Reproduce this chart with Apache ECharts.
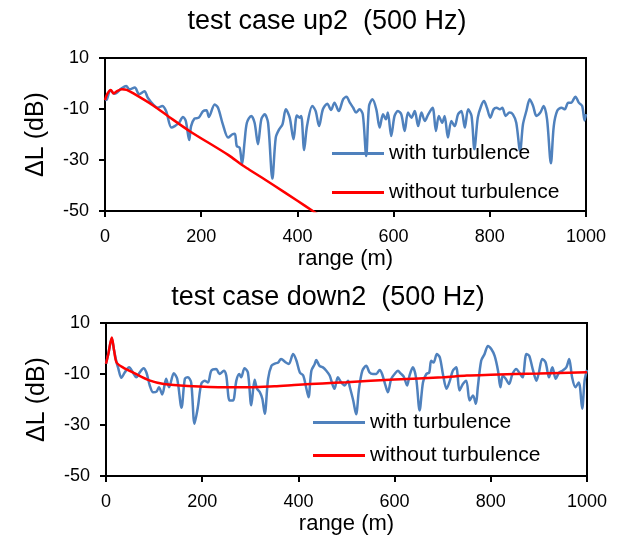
<!DOCTYPE html>
<html>
<head>
<meta charset="utf-8">
<script src="https://cdn.jsdelivr.net/npm/echarts@6/dist/echarts.min.js"></script>
<style>
  html, body { margin: 0; padding: 0; background: #fff; }
  #main { width: 618px; height: 536px; }
</style>
</head>
<body>
<div id="main"></div>
<script>
// [range (m), dL (dB)]
var upWith = [[0,-6.5],[4,-6.2],[11,-2.7],[20,-4],[34,-2],[44,-1],[51,-2.3],[62,-1.6],[71,-4.2],[82,-3],[89,-5.6],[100,-8.2],[110,-9.5],[119,-8.8],[127,-10.8],[138,-17.3],[145,-16.7],[154,-15.4],[162,-13.1],[168,-14.7],[175,-22.2],[179,-16.7],[186,-13.8],[195,-13.4],[204,-10.8],[211,-10.5],[216,-13.1],[228,-8.2],[235,-9.5],[245,-16],[256,-21.2],[265,-19.9],[270,-19.7],[274,-24.5],[280,-25.2],[285,-31.7],[290,-23.2],[295,-15.4],[304,-12.7],[311,-15.4],[318,-23.8],[325,-14],[332,-12.1],[339,-15.4],[348,-37.3],[355,-21.2],[362,-18],[369,-16],[376,-10.1],[384,-13.4],[392,-21.9],[399,-12.5],[405,-13.4],[408,-12.7],[414,-26.1],[420,-16.7],[431,-8.8],[438,-10.8],[445,-16.7],[453,-10.1],[462,-7.9],[470,-10.4],[477,-7.5],[486,-10.8],[495,-6.2],[502,-5.2],[509,-7.5],[516,-9.5],[522,-11.4],[529,-10.1],[536,-12.1],[543,-28.4],[549,-8.8],[556,-6.2],[564,-10.1],[571,-17.3],[578,-12.1],[584,-14],[588,-11.4],[595,-20.6],[602,-12.7],[609,-10.8],[616,-12.1],[623,-18.6],[630,-11.4],[637,-13.4],[644,-10.8],[651,-16.7],[658,-11.4],[665,-14.7],[672,-12.1],[681,-9.5],[688,-18.6],[694,-12.7],[701,-15.4],[706,-12.7],[713,-21.2],[720,-14.7],[727,-16.7],[734,-12.1],[741,-10.8],[748,-17.3],[755,-10.1],[762,-12.7],[768,-25.8],[775,-13.4],[782,-8.8],[788,-6.9],[794,-9.5],[801,-13.4],[808,-10.1],[814,-9.5],[821,-10.1],[826,-9.5],[833,-12.7],[841,-11.4],[848,-12.1],[855,-15.4],[863,-26.5],[869,-16],[876,-10.8],[883,-6.2],[890,-8.8],[897,-12.7],[905,-11.4],[912,-8.8],[919,-14],[927,-31.3],[933,-16.7],[940,-10.8],[949,-9.5],[956,-10.1],[963,-7.5],[969,-7.5],[978,-5.2],[985,-7.5],[992,-8.8],[997,-14.5],[1000,-12]];

var upWithout = [[0,-6.5],[5,-4],[12,-2.5],[18,-3.9],[25,-3],[35,-2.3],[45,-2.5],[60,-4],[100,-8.6],[134,-13.2],[177,-18.8],[256,-28],[285,-32],[300,-33.8],[350,-39.8],[400,-46],[432,-50],[460,-53.5]];

var downWith = [[0,-6],[5,-2],[12,4],[17,-1],[22,-5.5],[25,-7.4],[32,-11.5],[39,-9.4],[48,-7.4],[56,-9.4],[63,-11.3],[70,-9.4],[78,-7.7],[84,-9.4],[91,-14.5],[98,-17.2],[105,-16.9],[110,-15.2],[117,-18],[125,-11.9],[131,-15.2],[141,-9.7],[148,-11.9],[157,-23.2],[164,-11.9],[170,-11.3],[177,-13.3],[184,-29.5],[191,-23],[198,-13.9],[205,-12.6],[212,-13.3],[219,-8.7],[229,-8],[236,-10],[245,-8.7],[250,-10.6],[257,-20.4],[264,-20.4],[271,-12.6],[277,-10],[281,-11.3],[288,-7.7],[295,-9.4],[302,-22.3],[309,-12.3],[314,-15.8],[320,-17.2],[325,-19.7],[330,-25.6],[337,-11.9],[344,-6.8],[351,-5.9],[358,-5.5],[364,-4.1],[374,-5.5],[380,-6.1],[389,-2.2],[396,-4.8],[403,-9.4],[410,-10.6],[416,-15.2],[421,-19.1],[427,-8.7],[434,-6.1],[437,-4.5],[444,-6.8],[451,-7.4],[458,-8.7],[465,-10.6],[475,-15.8],[482,-11.3],[489,-13.3],[496,-14.5],[503,-12.6],[507,-15.2],[514,-20.4],[520,-25.8],[526,-15.8],[533,-8.7],[541,-6.8],[548,-9.4],[555,-10],[562,-10],[569,-8.4],[574,-10],[581,-14.5],[586,-17.2],[593,-11.9],[600,-10],[607,-8.7],[612,-9.7],[619,-11],[626,-14.5],[631,-10.6],[638,-7.4],[645,-11.9],[652,-24.3],[659,-13.3],[666,-10],[672,-9.4],[676,-4.8],[681,-5.5],[688,-2.2],[694,-3.5],[701,-10.6],[708,-15.8],[715,-12.6],[721,-8.7],[728,-7.4],[735,-16.5],[742,-13.9],[749,-12.6],[756,-20.4],[763,-18.4],[769,-21.7],[773,-15.2],[780,-4.8],[787,-2.2],[794,1],[801,-0.2],[808,-2.9],[815,-8.7],[820,-15.2],[825,-10.6],[831,-11.9],[838,-13.9],[845,-10],[853,-8],[859,-9.4],[866,-11.3],[874,-2.2],[880,-2.9],[887,-8],[895,-12.6],[900,-9.4],[907,-4.1],[914,-5.5],[921,-11.3],[928,-7.4],[935,-11.9],[942,-9.4],[949,-8.7],[957,-7.4],[963,-4.1],[969,-11.3],[976,-15.2],[983,-13.3],[990,-23.6],[995,-12.6],[1000,-8.4]];

var downWithout = [[0,-6],[5,-2],[12,4.3],[17,-1],[22,-5.5],[35,-7.4],[60,-9.8],[90,-12.5],[120,-13.9],[170,-14.7],[250,-15.2],[300,-15.2],[350,-14.8],[400,-14.2],[450,-13.7],[500,-13.2],[600,-12.2],[700,-11.3],[750,-10.6],[800,-10.3],[900,-9.8],[1000,-9.3]];

var titles = ['test case up2  (500 Hz)', 'test case down2  (500 Hz)'];
var legendNames = ['with turbulence', 'without turbulence'];

var font = 'Arial, "Liberation Sans", sans-serif';
var chart = echarts.init(document.getElementById('main'));

function xAx(gi) {
    return {
        gridIndex: gi, type: 'value', min: 0, max: 1000, interval: 200,
        name: 'range (m)', nameLocation: 'middle', nameGap: 37,
        nameTextStyle: {color: '#000', fontSize: 22, fontFamily: font},
        axisLine: {onZero: false, lineStyle: {color: '#000', width: 2}},
        axisTick: {show: true, length: 6, lineStyle: {color: '#000', width: 2}},
        axisLabel: {color: '#000', fontSize: 18, fontFamily: font, margin: 17,
                    formatter: function (v) { return String(v); }},
        splitLine: {show: false}
    };
}
function yAx(gi) {
    return {
        gridIndex: gi, type: 'value', min: -50, max: 10, interval: 20,
        name: 'ΔL (dB)', nameLocation: 'middle', nameGap: 56,
        nameTextStyle: {color: '#000', fontSize: 25, fontFamily: font},
        axisLine: {show: true, onZero: false, lineStyle: {color: '#000', width: 2}},
        axisTick: {show: true, length: 6, lineStyle: {color: '#000', width: 2}},
        axisLabel: {color: '#000', fontSize: 18, fontFamily: font, margin: 16},
        splitLine: {show: false}
    };
}

var option = {
    backgroundColor: '#fff',
    animation: false,
    title: [
        {text: titles[0], left: 322, top: 3, textAlign: 'center',
         textStyle: {color: '#000', fontSize: 27, fontWeight: 'normal', fontFamily: font}},
        {text: titles[1], left: 323, top: 279, textAlign: 'center',
         textStyle: {color: '#000', fontSize: 27, fontWeight: 'normal', fontFamily: font}}
    ],
    grid: [
        {left: 105, top: 58, width: 481, height: 153, show: true, borderColor: '#000', borderWidth: 2},
        {left: 106, top: 323, width: 481, height: 154, show: true, borderColor: '#000', borderWidth: 2}
    ],
    legend: [
        {data: legendNames, orient: 'vertical', left: 332, top: 143, padding: 0, icon: 'rect',
         itemWidth: 52, itemHeight: 3, itemGap: 18,
         textStyle: {color: '#000', fontSize: 21, lineHeight: 20, fontFamily: font}},
        {data: legendNames, orient: 'vertical', left: 313, top: 412, padding: 0, icon: 'rect',
         itemWidth: 52, itemHeight: 3, itemGap: 12,
         textStyle: {color: '#000', fontSize: 21, lineHeight: 20, fontFamily: font}}
    ],
    xAxis: [xAx(0), xAx(1)],
    yAxis: [yAx(0), yAx(1)],
    series: [
        {name: legendNames[0], type: 'line', xAxisIndex: 0, yAxisIndex: 0, data: upWith, symbol: 'none', smooth: 0.3,
         lineStyle: {color: '#4f81bd', width: 2.5}, itemStyle: {color: '#4f81bd'}},
        {name: legendNames[1], type: 'line', xAxisIndex: 0, yAxisIndex: 0, data: upWithout, symbol: 'none', smooth: 0.3,
         lineStyle: {color: '#ff0000', width: 2.5}, itemStyle: {color: '#ff0000'}},
        {name: legendNames[0], type: 'line', xAxisIndex: 1, yAxisIndex: 1, data: downWith, symbol: 'none', smooth: 0.3,
         lineStyle: {color: '#4f81bd', width: 2.5}, itemStyle: {color: '#4f81bd'}},
        {name: legendNames[1], type: 'line', xAxisIndex: 1, yAxisIndex: 1, data: downWithout, symbol: 'none', smooth: 0.3,
         lineStyle: {color: '#ff0000', width: 2.5}, itemStyle: {color: '#ff0000'}}
    ]
};
chart.setOption(option);
</script>
</body>
</html>
